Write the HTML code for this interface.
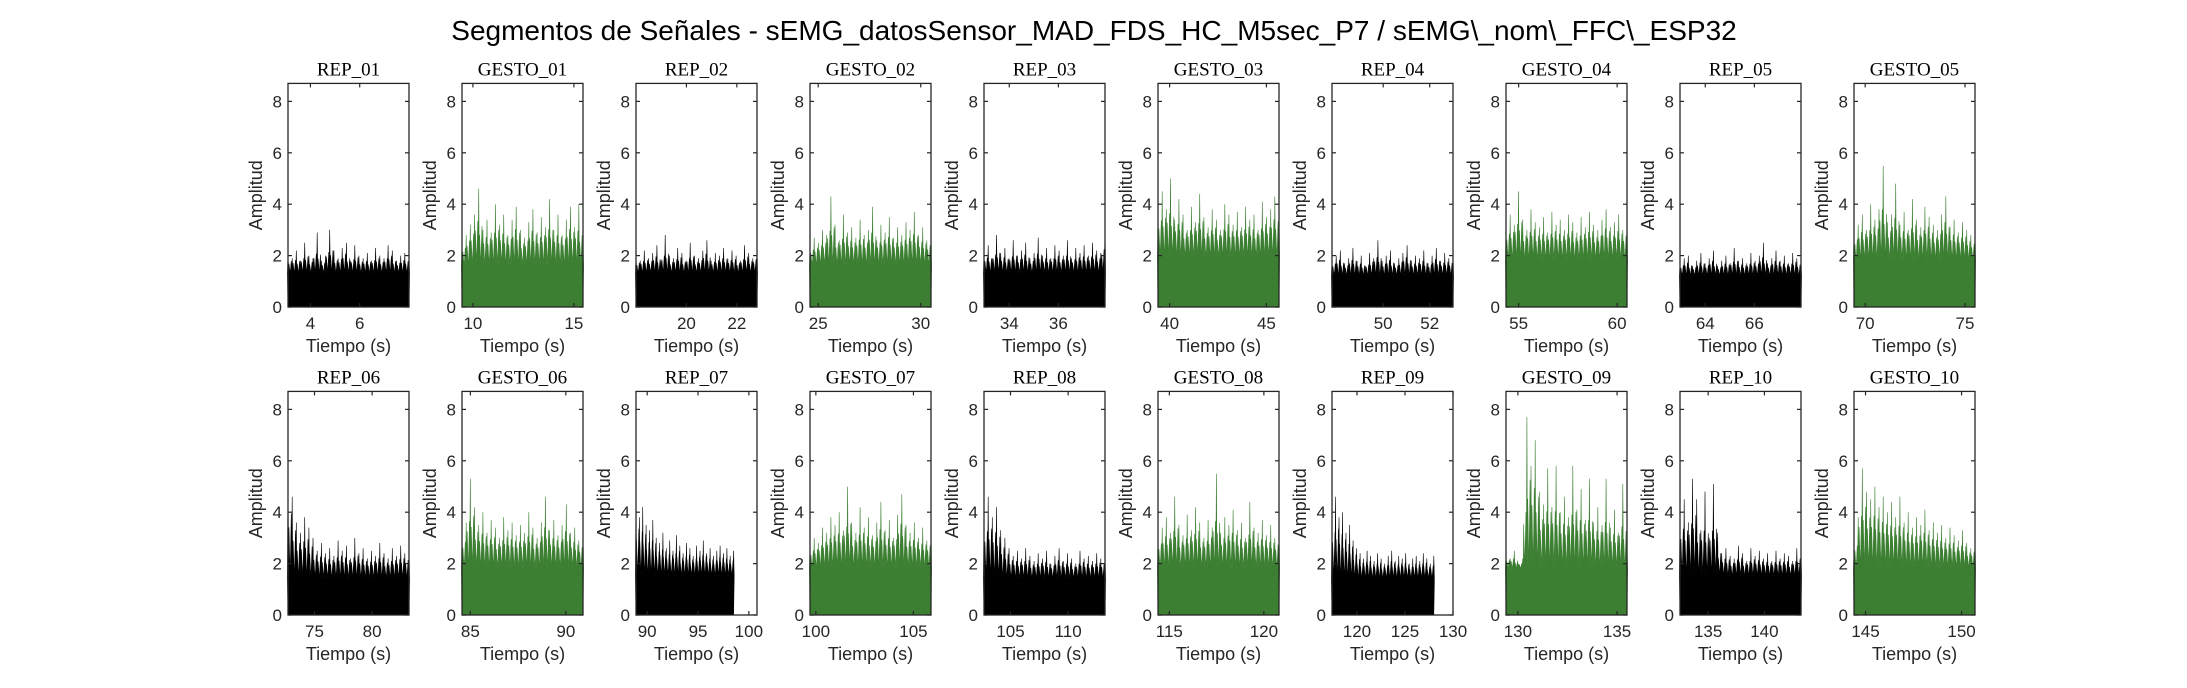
<!DOCTYPE html>
<html><head><meta charset="utf-8"><style>
html,body{margin:0;padding:0;background:#fff}
svg{display:block}
text{font-family:"Liberation Sans",sans-serif;fill:#262626}
.ttl{font-family:"Liberation Serif",serif;font-size:19px;fill:#000}
</style></head><body>
<svg id="fig" width="2187" height="688" viewBox="0 0 2187 688">
<text x="1094" y="40" text-anchor="middle" font-size="28" style="fill:#000">Segmentos de Señales - sEMG_datosSensor_MAD_FDS_HC_M5sec_P7 / sEMG\_nom\_FFC\_ESP32</text>
</svg>
<script>
const titles=["REP_01","GESTO_01","REP_02","GESTO_02","REP_03","GESTO_03","REP_04","GESTO_04","REP_05","GESTO_05",
"REP_06","GESTO_06","REP_07","GESTO_07","REP_08","GESTO_08","REP_09","GESTO_09","REP_10","GESTO_10"];
const xRanges=[[3.09,8.0],[9.46,15.45],[18.0,22.8],[24.6,30.5],[32.97,37.9],[39.4,45.65],[47.8,53.0],[54.36,60.5],[62.97,67.9],[69.44,75.5],
[72.7,83.2],[84.56,90.9],[88.9,100.8],[99.7,105.9],[102.7,113.2],[114.4,120.8],[117.4,130],[129.4,135.5],[132.5,143.25],[144.4,150.7]];
const dataEnd=[8.0,15.45,22.8,30.5,37.9,45.65,53.0,60.5,67.9,75.5,83.2,90.9,98.5,105.9,113.2,120.8,128,135.5,143.25,150.7];
const xTicks=[[4,6],[10,15],[20,22],[25,30],[34,36],[40,45],[50,52],[55,60],[64,66],[70,75],
[75,80],[85,90],[90,95,100],[100,105],[105,110],[115,120],[120,125,130],[130,135],[135,140],[145,150]];
const yTicks=[0,2,4,6,8];
const baseLevels=[1.3,1.6,1.3,1.6,1.3,1.9,1.2,1.8,1.2,1.8,1.4,1.8,1.5,1.8,1.4,1.8,1.4,1.8,1.5,1.8];
const peaks=[
[2.1,1.9,2.2,1.8,2.5,2.0,1.9,2.9,1.8,2.0,3.0,2.2,1.9,2.3,2.5,1.8,2.4,2.0,1.9,2.1,1.8,2.3,2.0,1.9,2.4,2.2,1.8,2.0,2.1,1.9],
[2.4,2.8,3.2,3.6,4.6,3.0,3.4,2.9,4.0,3.2,3.6,2.8,3.4,3.9,3.0,2.7,3.3,3.8,2.9,3.5,3.1,4.2,3.0,3.6,2.8,3.4,3.9,3.1,4.0,2.6],
[2.0,1.8,2.2,1.9,2.1,2.4,1.8,2.8,2.0,1.9,2.3,2.1,1.8,2.5,2.0,1.9,2.2,2.6,1.8,2.1,2.0,2.3,1.9,2.2,2.0,1.8,2.4,2.1,1.9,2.3],
[2.3,2.7,2.5,3.0,2.8,4.3,3.2,2.6,3.6,2.9,3.1,2.7,3.4,2.8,3.0,3.9,2.6,3.2,2.9,3.5,2.7,3.1,2.8,3.3,3.0,3.7,2.8,3.1,2.6,2.9],
[2.0,2.4,1.9,2.8,2.1,2.3,1.9,2.6,2.0,2.2,2.5,1.9,2.1,2.7,2.0,2.3,1.9,2.4,2.2,2.0,2.6,1.9,2.3,2.1,2.4,2.0,2.5,2.2,2.1,3.2],
[3.5,4.5,3.8,5.0,3.4,4.2,3.6,3.0,3.9,3.3,4.4,3.5,3.1,3.8,3.4,3.0,4.0,3.6,3.2,3.7,3.1,3.9,3.4,3.6,3.0,4.1,3.5,3.8,4.3,3.6],
[1.8,2.0,2.2,1.7,1.9,2.3,1.8,2.0,1.6,2.1,1.9,2.6,1.8,2.0,2.2,1.7,1.9,2.1,2.4,1.8,2.0,1.9,2.2,1.7,2.0,2.3,1.8,2.1,1.9,2.0],
[3.0,3.6,3.2,4.5,3.4,3.0,3.8,3.3,3.1,3.5,2.9,3.7,3.2,3.4,3.0,3.6,3.3,2.9,3.5,3.1,3.7,3.2,3.0,3.4,3.8,3.1,3.3,3.6,3.0,3.4],
[1.7,1.9,2.0,1.6,1.8,2.1,1.7,1.9,2.2,1.6,1.8,2.0,1.7,2.3,1.8,1.9,1.7,2.1,1.8,2.0,2.5,1.7,1.9,2.2,1.8,2.0,1.7,2.1,1.9,1.8],
[2.8,3.2,3.6,3.0,4.0,3.4,3.8,5.5,3.3,3.6,4.8,3.2,3.7,3.0,4.2,3.4,3.1,3.9,3.5,3.2,3.0,3.6,4.3,3.1,3.4,2.9,3.3,3.0,2.8,2.7],
[5.5,4.6,3.6,3.2,3.8,3.4,3.0,2.5,2.8,2.4,2.6,2.3,2.9,2.5,2.7,2.2,3.0,2.4,2.6,2.2,2.5,2.3,2.8,2.4,2.2,2.6,2.3,2.7,2.4,2.5],
[3.0,3.6,5.3,4.2,3.5,4.0,3.2,3.7,3.4,3.0,3.8,3.3,3.6,3.1,3.5,3.2,4.0,3.4,3.0,3.6,4.6,3.3,3.7,3.1,3.5,4.3,3.2,3.4,2.9,3.1],
[4.5,3.8,4.2,3.5,3.3,3.7,3.0,2.8,3.2,2.6,2.9,2.5,3.1,2.7,2.4,2.8,2.6,2.3,2.7,2.5,2.9,2.4,2.6,2.3,2.5,2.7,2.4,2.6,2.3,2.5],
[2.6,3.0,2.8,3.4,3.2,3.8,3.5,4.0,3.3,5.0,3.6,3.2,4.2,3.4,3.8,3.1,3.6,4.4,3.3,3.7,3.0,3.9,4.7,3.5,3.2,3.6,3.0,3.4,2.9,3.3],
[3.5,4.6,3.8,4.2,3.3,3.0,2.6,2.3,2.5,2.2,2.6,2.3,2.1,2.4,2.2,2.5,2.0,2.3,2.6,2.1,2.4,2.2,2.0,2.5,2.2,2.3,2.1,2.4,2.2,2.3],
[3.0,3.4,3.8,3.2,4.6,3.5,3.1,3.9,3.3,4.2,3.6,3.0,3.7,3.4,5.5,3.2,3.8,3.5,4.1,3.3,3.6,3.0,4.4,3.4,3.2,3.7,3.1,3.5,3.0,3.3],
[3.4,4.6,3.8,4.0,3.2,3.5,2.9,2.6,2.4,2.2,2.5,2.3,2.1,2.4,2.2,2.0,2.3,2.5,2.1,2.3,2.2,2.4,2.0,2.2,2.3,2.1,2.4,2.2,2.0,2.3],
[2.4,2.2,2.5,2.0,2.2,7.7,5.8,6.8,4.8,4.3,5.7,4.2,5.8,4.0,4.6,3.8,5.8,4.1,4.9,3.7,5.3,3.6,4.2,3.5,5.3,3.4,4.1,3.2,5.1,2.7],
[3.8,4.5,3.6,5.3,4.5,3.3,4.8,3.0,5.1,3.2,2.4,2.6,2.3,2.2,2.7,2.4,2.1,2.6,2.3,2.5,2.2,2.4,2.1,2.5,2.2,2.4,2.3,2.1,2.6,2.4],
[2.4,3.8,5.7,4.8,4.5,5.0,4.2,4.6,4.0,4.4,3.8,4.6,3.6,4.0,3.4,3.8,3.5,4.1,3.3,3.6,3.2,3.5,3.0,3.4,3.1,2.9,3.3,2.8,2.6,2.9]];

const svg=document.getElementById('fig');
const NS='http://www.w3.org/2000/svg';
const AX_L=288, AX_W=121, PITCH=174, YMAX=8.7, UNIT=25.7;
const ROW_Y0=[307,615];
function mk(tag,attrs,parent){const e=document.createElementNS(NS,tag);for(const k in attrs)e.setAttribute(k,attrs[k]);(parent||svg).appendChild(e);return e;}
titles.forEach((t,p)=>{
  const row=Math.floor(p/10), col=p%10;
  const left=AX_L+col*PITCH, right=left+AX_W, y0=ROW_Y0[row], top=y0-YMAX*UNIT;
  const [xa,xb]=xRanges[p];
  const sx=v=>left+(v-xa)/(xb-xa)*AX_W;
  const sy=v=>y0-v*UNIT;
  const g=mk('g',{});
  
  
  const color=t.startsWith('GESTO')?'#3c7f32':'#000000';
  const pk=peaks[p], n=pk.length, base=baseLevels[p];
  const xs=xa, xe=dataEnd[p];
  const xv=i=>xs+(xe-xs)*i/(n-1);
  let pts=[[sx(xs),sy(0)]];
  for(let i=0;i<n;i++){
    const x=sx(xv(i));
    pts.push([x-0.6,sy(base)]);pts.push([x,sy(pk[i])]);pts.push([x+0.6,sy(base)]);
    if(i<n-1){const xm=sx((xv(i)+xv(i+1))/2);
      const m=(pk[i]+pk[i+1])/2;
      pts.push([xm-1.2,sy(base+(m-base)*0.55)]);pts.push([xm,sy(base)]);pts.push([xm+1.2,sy(base+(m-base)*0.7)]);}
  }
  pts.push([sx(xe),sy(0)]);
  const sig=mk('polygon',{points:pts.map(q=>q[0].toFixed(1)+','+q[1].toFixed(1)).join(' '),fill:color,stroke:color,'stroke-width':0.6,'stroke-linejoin':'miter'},g);
  
  
  const box=mk('rect',{x:left,y:top,width:AX_W,height:y0-top,fill:'none',stroke:'#262626','stroke-width':1.3},g);
  
  
  yTicks.forEach(v=>{
    const y=sy(v);
    mk('line',{x1:left,x2:left+4,y1:y,y2:y,stroke:'#262626','stroke-width':1.2},g);
    mk('line',{x1:right,x2:right-4,y1:y,y2:y,stroke:'#262626','stroke-width':1.2},g);
    const tl=mk('text',{x:left-6,y:y+6,'text-anchor':'end','font-size':17},g);
    tl.textContent=v;
    
    
  });
  xTicks[p].forEach(v=>{
    const x=sx(v);
    mk('line',{x1:x,x2:x,y1:y0,y2:y0-4,stroke:'#262626','stroke-width':1.2},g);
    mk('line',{x1:x,x2:x,y1:top,y2:top+4,stroke:'#262626','stroke-width':1.2},g);
    const tl=mk('text',{x:x,y:y0+22,'text-anchor':'middle','font-size':17},g);
    tl.textContent=v;
    
    
  });
  const tt=mk('text',{x:left+AX_W/2,y:top-8,'text-anchor':'middle',class:'ttl'},g);
  tt.textContent=t;
  
  
  const xl=mk('text',{x:left+AX_W/2,y:y0+45,'text-anchor':'middle','font-size':18},g);
  xl.textContent='Tiempo (s)';
  
  
  const cy=(top+y0)/2;
  const yl=mk('text',{x:left-26,y:cy,'text-anchor':'middle','font-size':18,transform:'rotate(-90 '+(left-26)+' '+cy+')'},g);
  yl.textContent='Amplitud';
  
  
});
</script>
</body></html>
